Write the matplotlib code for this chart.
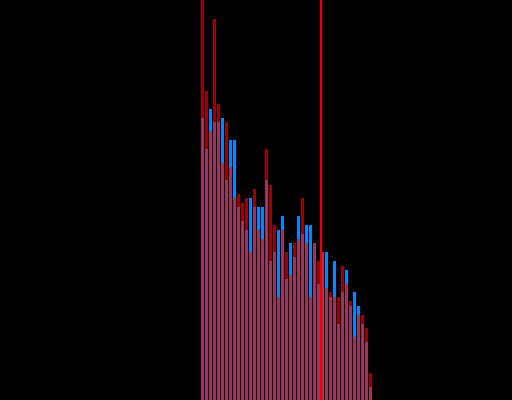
import matplotlib
matplotlib.use("Agg")
import matplotlib.pyplot as plt
import numpy as np

# bin index of each bar
bins = list(range(43))

blue_counts = [63, 56, 65, 62, 62, 63, 49, 58, 58, 43, 40, 38, 45, 43, 43, 43, 49, 31, 33, 38,
               41, 27, 35, 32, 41, 37, 39, 39, 35, 26, 33, 33, 23, 31, 17, 24, 29, 21, 24, 21,
               17, 13, 3]
red_counts = [96, 69, 60, 85, 66, 53, 62, 52, 45, 46, 44, 45, 33, 47, 38, 36, 56, 48, 39, 23,
              38, 33, 28, 35, 36, 45, 35, 23, 35, 31, 33, 25, 24, 23, 23, 30, 26, 22, 14, 19,
              19, 16, 6]
marker_x = [29.875]

fig = plt.figure(figsize=(5.12, 4.0), dpi=100)
fig.patch.set_facecolor("black")
ax = fig.add_axes([0, 0, 1, 1])
ax.set_facecolor("black")

ax.bar(bins, blue_counts, width=0.75, align="edge", color="#0088ff",
       linewidth=0, antialiased=False)
ax.bar(bins, red_counts, width=0.75, align="edge", color="#ff0000", alpha=0.62,
       linewidth=0, antialiased=False)
ax.axvline(marker_x[0], color="#f00000", linewidth=1.2, antialiased=False)

ax.set_xlim(-50.25, 77.75)
ax.set_ylim(0, 400 / 4.48)
ax.axis("off")

fig.savefig("out.png", dpi=100, facecolor="black")
